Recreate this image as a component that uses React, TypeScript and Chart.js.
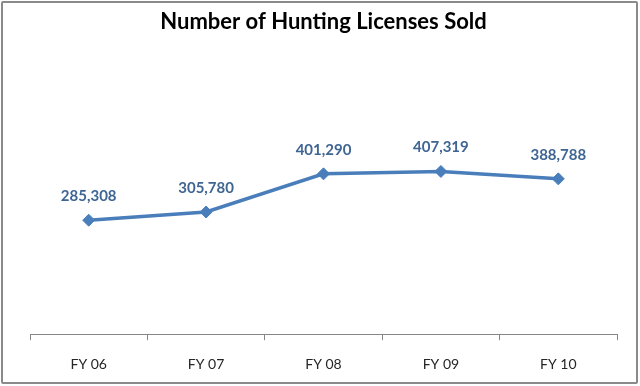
import React, { useEffect, useRef } from "react";
import { Chart, registerables } from "chart.js";

Chart.register(...registerables);

const categories = ["FY 06", "FY 07", "FY 08", "FY 09", "FY 10"];
const licensesSold = [285308, 305780, 401290, 407319, 388788];
const chartTitle = "Number of Hunting Licenses Sold";

const FONT = "Lato, 'Open Sans', sans-serif";

const labelPlugin = {
  id: "pointLabels",
  afterDatasetsDraw(chart: any) {
    const ctx = chart.ctx;
    const meta = chart.getDatasetMeta(0);
    const data = chart.data.datasets[0].data as number[];
    ctx.save();
    ctx.font = `bold 15px ${FONT}`;
    ctx.fillStyle = "#3F6593";
    ctx.textAlign = "center";
    ctx.textBaseline = "middle";
    meta.data.forEach((pt: any, i: number) => {
      ctx.fillText(data[i].toLocaleString("en-US"), pt.x, pt.y - 24);
    });
    ctx.restore();
  },
};

export default function App() {
  const ref = useRef<HTMLCanvasElement | null>(null);
  useEffect(() => {
    if (!ref.current) return;
    const chart = new Chart(ref.current, {
      type: "line",
      data: {
        labels: categories,
        datasets: [
          {
            data: licensesSold,
            borderColor: "#4A7EBB",
            backgroundColor: "#4A7EBB",
            borderWidth: 3.5,
            pointStyle: "rectRot",
            pointRadius: 6,
            pointBackgroundColor: "#4A7EBB",
            pointBorderColor: "#4A7EBB",
            pointBorderWidth: 1,
            tension: 0,
          },
        ],
      },
      options: {
        animation: false,
        responsive: false,
        maintainAspectRatio: false,
        layout: { padding: { left: 30, right: 23, top: 0, bottom: -3 } },
        plugins: {
          legend: { display: false },
          tooltip: { enabled: false },
          title: {
            display: true,
            text: chartTitle,
            color: "#000000",
            font: { family: FONT, size: 22, weight: "bold" },
            padding: { top: 9, bottom: 119 },
          },
        },
        scales: {
          x: {
            offset: true,
            grid: {
              offset: true,
              drawOnChartArea: false,
              drawTicks: true,
              tickLength: 6,
              color: "#868686",
            },
            border: { display: true, color: "#868686", width: 1 },
            ticks: {
              color: "#262626",
              font: { family: FONT, size: 14 },
              padding: 16,
            },
          },
          y: {
            display: false,
            min: 0,
            max: 450000,
          },
        },
      },
      plugins: [labelPlugin],
    });
    return () => chart.destroy();
  }, []);
  return (
    <div style={{ position: "fixed", left: 0, top: 0, width: 640, height: 386, background: "#fff" }}>
      <canvas ref={ref} width={640} height={386} style={{ position: "absolute", left: 0, top: 0 }} />
      <div
        style={{
          position: "absolute",
          left: 1,
          top: 1,
          width: 637,
          height: 383,
          boxSizing: "border-box",
          border: "2px solid #8A8A8A",
          borderRadius: 2,
          pointerEvents: "none",
        }}
      />
    </div>
  );
}
